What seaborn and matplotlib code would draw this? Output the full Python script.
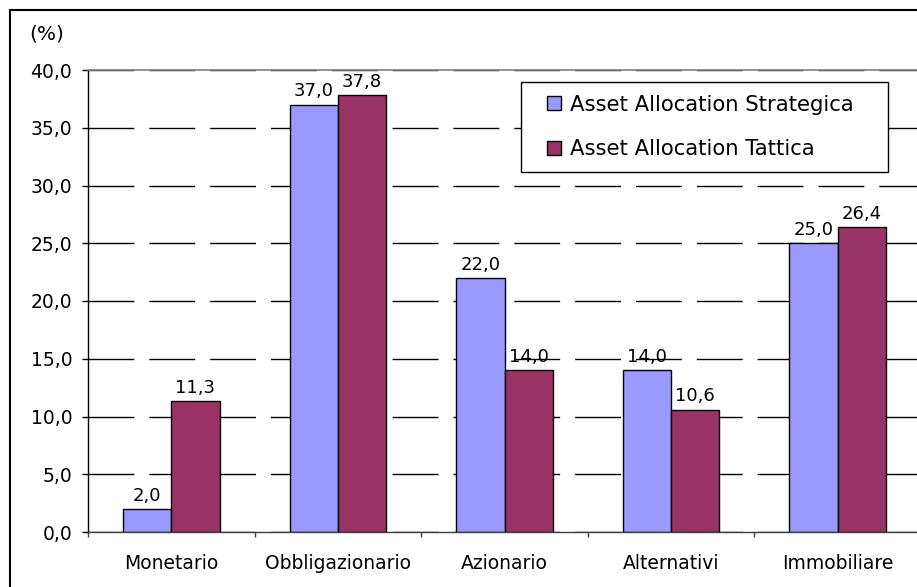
import matplotlib
matplotlib.use("Agg")
import matplotlib.pyplot as plt
import seaborn as sns
import pandas as pd
from matplotlib.ticker import FuncFormatter, MultipleLocator
from matplotlib.patches import Rectangle
from matplotlib.lines import Line2D

categories = ["Monetario", "Obbligazionario", "Azionario", "Alternativi", "Immobiliare"]
series_names = ["Asset Allocation Strategica", "Asset Allocation Tattica"]
strategica = [2.0, 37.0, 22.0, 14.0, 25.0]
tattica = [11.3, 37.8, 14.0, 10.6, 26.4]
colors = ["#9999FF", "#993366"]

df = pd.DataFrame({
    "categoria": categories * 2,
    "serie": [series_names[0]] * 5 + [series_names[1]] * 5,
    "valore": strategica + tattica,
})

sns.set_theme(style="white")
plt.rcParams["font.family"] = ["DejaVu Sans"]
plt.rcParams["text.color"] = "black"
plt.rcParams["xtick.color"] = "black"
plt.rcParams["ytick.color"] = "black"

W, H = 917, 587
fig = plt.figure(figsize=(W / 100, H / 100), dpi=100)
ax = fig.add_axes([88 / W, 1 - 532 / H, 833 / W, 462 / H])

sns.barplot(data=df, x="categoria", y="valore", hue="serie", order=categories,
            hue_order=series_names, palette=colors, width=0.58, gap=0,
            edgecolor="black", linewidth=1.0, saturation=1, ax=ax, legend=False)

for cont in ax.containers:
    labels = [f"{b.get_height():.1f}".replace(".", ",") for b in cont]
    ax.bar_label(cont, labels=labels, padding=3, fontsize=13, color="black")

ax.set_ylim(0, 40)
ax.yaxis.set_major_locator(MultipleLocator(5))
ax.yaxis.set_major_formatter(FuncFormatter(lambda v, p: f"{v:.1f}".replace(".", ",")))
ax.set_xlabel("")
ax.set_ylabel("")

ax.yaxis.grid(True, color="black", linewidth=1.0, linestyle=(0, (33, 10.8)))
ax.xaxis.grid(False)
ax.set_axisbelow(True)

for s in ["left", "bottom"]:
    ax.spines[s].set_visible(True)
    ax.spines[s].set_color("black")
    ax.spines[s].set_linewidth(1.0)
ax.spines["bottom"].set_color("#404040")
ax.spines["right"].set_visible(False)
ax.spines["top"].set_visible(True)
ax.spines["top"].set_color("#808080")
ax.spines["top"].set_linewidth(1.2)

ax.set_xticks(range(len(categories)))
ax.set_xticklabels(categories)
ax.set_xticks([i + 0.5 for i in range(-1, len(categories))], minor=True)
ax.tick_params(axis="x", which="major", length=0, pad=16, labelsize=13.5, labelcolor="black")
ax.tick_params(axis="x", which="minor", length=3.6, width=1, color="#404040", direction="out", bottom=True)
ax.tick_params(axis="y", which="major", length=4.3, width=1, color="black", direction="out",
               left=True, pad=7, labelsize=13.5, labelcolor="black")
ax.set_xlim(-0.5, len(categories) - 0.5)

handles = [Line2D([], [], linestyle="none", marker="s", markersize=9.4,
                  markerfacecolor=c, markeredgecolor="black", markeredgewidth=1.0)
           for c in colors]
leg = ax.legend(handles, series_names, loc="upper left",
                bbox_to_anchor=(521 / W, 1 - 171 / H, 367 / W, 89 / H),
                bbox_transform=fig.transFigure, mode="expand", borderaxespad=0,
                fontsize=15.2, frameon=True, fancybox=False, framealpha=1,
                edgecolor="black", borderpad=0.6, labelspacing=1.15,
                handlelength=1.9, handletextpad=-0.2, numpoints=1,
                labelcolor="black")
leg.get_frame().set_linewidth(1.0)

fig.text(29 / W, 1 - 24 / H, "(%)", fontsize=14.5, va="top", ha="left", color="black")

fig.patches.append(Rectangle((10 / W, -0.1), 1.2, (H - 10) / H + 0.1, transform=fig.transFigure,
                             fill=False, edgecolor="black", linewidth=1.5))

fig.savefig("out.png", dpi=100, facecolor="white")
